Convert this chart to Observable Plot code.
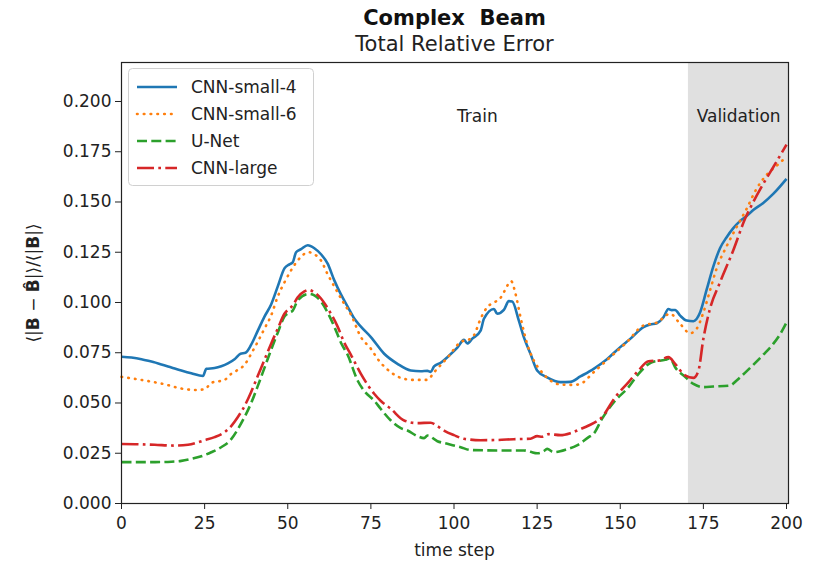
<!DOCTYPE html>
<html><head><meta charset="utf-8">
<script src="https://cdn.jsdelivr.net/npm/d3@7"></script>
<script src="https://cdn.jsdelivr.net/npm/@observablehq/plot@0.6"></script>
<style>
body{margin:0;background:#fff;font-family:"DejaVu Sans",sans-serif;}
#wrap{position:relative;width:817px;height:579px;overflow:hidden;background:#fff;}
</style></head><body><div id="wrap"></div>
<script>
// ---- data ----
const seriesNames = ["CNN-small-4", "CNN-small-6", "U-Net", "CNN-large"];
const seriesColors = ["#1f77b4", "#ff7f0e", "#2ca02c", "#d62728"];
const xTicks = [0, 25, 50, 75, 100, 125, 150, 175, 200];
const yTicks = [0, 0.025, 0.05, 0.075, 0.1, 0.125, 0.15, 0.175, 0.2];
const regionNames = ["Train", "Validation"];
const regionStart = [0, 170.5];
const regionEnd = [170.5, 200.6];
const regionLabelT = [107, 185.6];
const regionLabelV = [0.1925, 0.1925];

const cnnSmall4 = [[0,0.0730],[3,0.0726],[6,0.0718],[9,0.0706],[12,0.0692],[15,0.0677],[18,0.0662],[21,0.0648],[24.5,0.0634],[25.5,0.0670],[28,0.0674],[30,0.0683],[32,0.0697],[34,0.0718],[35.8,0.0745],[37.3,0.0750],[39,0.0790],[41,0.0860],[43,0.0930],[45,0.0990],[47,0.1080],[49,0.1170],[50.5,0.1190],[51.5,0.1200],[52.5,0.1250],[54,0.1265],[56,0.1285],[58,0.1270],[60,0.1240],[62,0.1193],[64,0.1110],[66,0.1040],[68,0.0980],[70,0.0920],[72,0.0880],[75,0.0828],[79,0.0745],[83,0.0695],[87,0.0662],[90,0.0658],[92,0.0660],[93,0.0655],[94,0.0682],[96,0.0700],[98,0.0728],[101,0.0775],[103,0.0814],[104,0.0796],[105.5,0.0820],[108,0.0860],[109,0.0919],[112,0.0968],[113,0.0944],[115,0.0963],[116.5,0.1007],[117.5,0.1005],[119.5,0.0910],[121,0.0828],[123,0.0745],[125,0.0662],[128,0.0628],[132,0.0604],[135,0.0605],[138,0.0632],[142,0.0670],[146,0.0718],[150,0.0778],[153,0.0819],[157,0.0877],[159,0.0890],[161,0.0897],[163,0.0927],[164.5,0.0968],[165.5,0.0962],[166.5,0.0963],[168,0.0935],[170,0.0910],[172,0.0907],[174,0.0950],[176,0.1065],[178,0.1180],[180,0.1270],[182,0.1325],[184,0.1370],[186,0.1405],[188,0.1430],[190,0.1460],[193,0.1495],[196,0.1540],[200,0.1615]];

const cnnSmall6 = [[0,0.0630],[4,0.0620],[8,0.0609],[13,0.0593],[18,0.0572],[22,0.0565],[25,0.0568],[27,0.0600],[31,0.0615],[33,0.0645],[35,0.0665],[37,0.0690],[39,0.0745],[41,0.0805],[43,0.0870],[45,0.0935],[47,0.1030],[49,0.1100],[51,0.1160],[53,0.1209],[56.3,0.1250],[58,0.1240],[60,0.1209],[62,0.1140],[64,0.1080],[67,0.0993],[69,0.0940],[72,0.0828],[75,0.0770],[77,0.0720],[81,0.0653],[85,0.0620],[88,0.0615],[92,0.0615],[94,0.0653],[98,0.0725],[102,0.0803],[105,0.0820],[106,0.0837],[108,0.0919],[110,0.0977],[112,0.1000],[114,0.1023],[115,0.1051],[117.2,0.1106],[118.5,0.1043],[120,0.0927],[122,0.0794],[124,0.0711],[126,0.0662],[129,0.0612],[132,0.0592],[136,0.0590],[138,0.0595],[142,0.0653],[147,0.0728],[152,0.0803],[157,0.0886],[161,0.0900],[165,0.0944],[168,0.0894],[171,0.0847],[173,0.0870],[175,0.0950],[177,0.1060],[179,0.1170],[182,0.1280],[185,0.1375],[188,0.1466],[191,0.1566],[194,0.1635],[197,0.1680],[200,0.1725]];

const uNet = [[0,0.0206],[5,0.0206],[10,0.0206],[15,0.0208],[18,0.0212],[21,0.0222],[24,0.0235],[27,0.0255],[30,0.0280],[33,0.0320],[35,0.0370],[37,0.0430],[39,0.0500],[41,0.0585],[43,0.0675],[45,0.0765],[47,0.0850],[49,0.0930],[50.5,0.0950],[51.5,0.0960],[53,0.1010],[56.3,0.1043],[58,0.1035],[60,0.1005],[62,0.0950],[64,0.0880],[66,0.0800],[68,0.0740],[71,0.0612],[73,0.0560],[76,0.0512],[78,0.0470],[81,0.0413],[84,0.0375],[86,0.0363],[89,0.0335],[91,0.0325],[92,0.0338],[95,0.0310],[98,0.0297],[102,0.0280],[105,0.0266],[113,0.0264],[121,0.0264],[123,0.0257],[125,0.0250],[127,0.0260],[128,0.0272],[130,0.0255],[134,0.0270],[137,0.0289],[140.5,0.0330],[142,0.0347],[144.5,0.0421],[148.5,0.0512],[152.5,0.0579],[155.5,0.0645],[159.5,0.0703],[163.5,0.0715],[165,0.0722],[166.5,0.0678],[169.5,0.0630],[172,0.0595],[175,0.0579],[178,0.0582],[183,0.0587],[185,0.0612],[187.5,0.0650],[190,0.0690],[193,0.0740],[196,0.0794],[198,0.0840],[200,0.0900]];

const cnnLarge = [[0,0.0296],[5,0.0295],[10,0.0292],[16,0.0288],[20,0.0292],[25,0.0315],[28,0.0330],[31,0.0355],[33,0.0385],[35,0.0430],[37,0.0485],[39,0.0555],[41,0.0635],[43,0.0715],[45,0.0795],[47,0.0870],[49,0.0944],[50.5,0.0970],[51.5,0.0985],[53,0.1026],[55,0.1055],[56.3,0.1063],[58,0.1050],[60,0.1020],[61.5,0.0985],[63,0.0944],[65,0.0880],[67,0.0800],[69,0.0740],[72,0.0645],[76,0.0546],[78,0.0510],[81,0.0471],[85,0.0413],[89,0.0400],[93,0.0402],[95,0.0385],[97,0.0363],[100,0.0340],[103,0.0322],[108,0.0315],[113,0.0316],[118,0.0320],[123,0.0322],[125,0.0335],[126.5,0.0332],[128.5,0.0345],[132,0.0340],[135,0.0350],[138,0.0370],[140.5,0.0388],[144.5,0.0430],[148.5,0.0529],[152.5,0.0604],[155.5,0.0662],[158.5,0.0708],[161.5,0.0711],[164.5,0.0728],[166.5,0.0695],[169.5,0.0637],[172,0.0625],[173.5,0.0660],[175,0.0820],[177,0.0970],[180,0.1100],[184,0.1260],[187.5,0.1415],[190,0.1500],[193,0.1590],[196,0.1673],[200,0.1785]];

const seriesData = [cnnSmall4, cnnSmall6, uNet, cnnLarge];
const seriesDash = [null, "0.6,6.2", "10,4.3", "17,4.3,2.7,4.3"];
const seriesCap = ["butt", "round", "butt", "butt"];

const regions = regionNames.map((n, i) => ({name: n, x1: regionStart[i], x2: regionEnd[i], t: regionLabelT[i], v: regionLabelV[i]}));
const yMax = 0.2194;

const lineMarks = seriesData.map((s, i) => Plot.line(s, {
  x: d => d[0], y: d => d[1], stroke: seriesColors[i], strokeWidth: 2.6,
  strokeDasharray: seriesDash[i] || undefined, curve: "monotone-x",
  strokeLinecap: seriesCap[i], strokeLinejoin: "round"
}));

const chart = Plot.plot({
  width: 817, height: 579,
  marginLeft: 121, marginRight: 29, marginTop: 62, marginBottom: 76,
  style: {fontFamily: "DejaVu Sans, sans-serif", fontSize: "17px", color: "#222", background: "transparent", overflow: "visible"},
  x: {domain: [0, 200.6], ticks: xTicks, tickFormat: d => String(d), label: null, tickSize: 6, tickPadding: 7},
  y: {domain: [0, yMax], ticks: yTicks, tickFormat: d3.format(".3f"), label: null, tickSize: 6, tickPadding: 4},
  marks: [
    Plot.rect(regions.filter(r => r.name === "Validation"), {x1: "x1", x2: "x2", y1: 0, y2: yMax, fill: "#e0e0e0"}),
    ...lineMarks,
    Plot.text(regions, {x: "t", y: "v", text: "name", fontSize: 17, fill: "#222"}),
    Plot.frame({stroke: "#222", strokeWidth: 1.2})
  ]
});
document.getElementById("wrap").appendChild(chart);

// ---- overlays: titles, axis labels, legend ----
const svg = d3.select(chart);
const W = 817;
const cx = (121 + (W - 29)) / 2;
svg.append("text").attr("x", cx).attr("y", 25).attr("text-anchor", "middle")
  .style("font-weight", "bold").style("font-size", "21px").style("white-space", "pre").attr("fill", "#111")
  .text("Complex  Beam");
svg.append("text").attr("x", cx).attr("y", 51).attr("text-anchor", "middle")
  .style("font-size", "21px").attr("fill", "#222").text("Total Relative Error");
svg.append("text").attr("x", cx).attr("y", 556).attr("text-anchor", "middle")
  .style("font-size", "17px").attr("fill", "#222").text("time step");

const yl = svg.append("text").attr("transform", "translate(39,283) rotate(-90)")
  .attr("text-anchor", "middle").style("font-size", "17px").attr("fill", "#222");
const parts = [["⟨|", false], ["B", true], [" − ", false], ["B\u0302", true], ["|⟩/⟨|", false], ["B", true], ["|⟩", false]];
parts.forEach(([t, b]) => yl.append("tspan").style("font-weight", b ? "bold" : "normal").style("white-space", "pre").text(t));

const lg = svg.append("g");
lg.append("rect").attr("x", 128.5).attr("y", 68.5).attr("width", 185).attr("height", 117).attr("rx", 4)
  .attr("fill", "white").attr("fill-opacity", 0.85).attr("stroke", "#d0d0d0");
seriesNames.forEach((n, i) => {
  const y = 87 + 27 * i;
  lg.append("line").attr("x1", 137).attr("x2", 177).attr("y1", y).attr("y2", y)
    .attr("stroke", seriesColors[i]).attr("stroke-width", 2.6)
    .attr("stroke-dasharray", seriesDash[i]).attr("stroke-linecap", seriesCap[i]);
  lg.append("text").attr("x", 191).attr("y", y).attr("dy", "0.36em").attr("text-anchor", "start")
    .style("font-size", "17px").attr("fill", "#222").text(n);
});
</script></body></html>
